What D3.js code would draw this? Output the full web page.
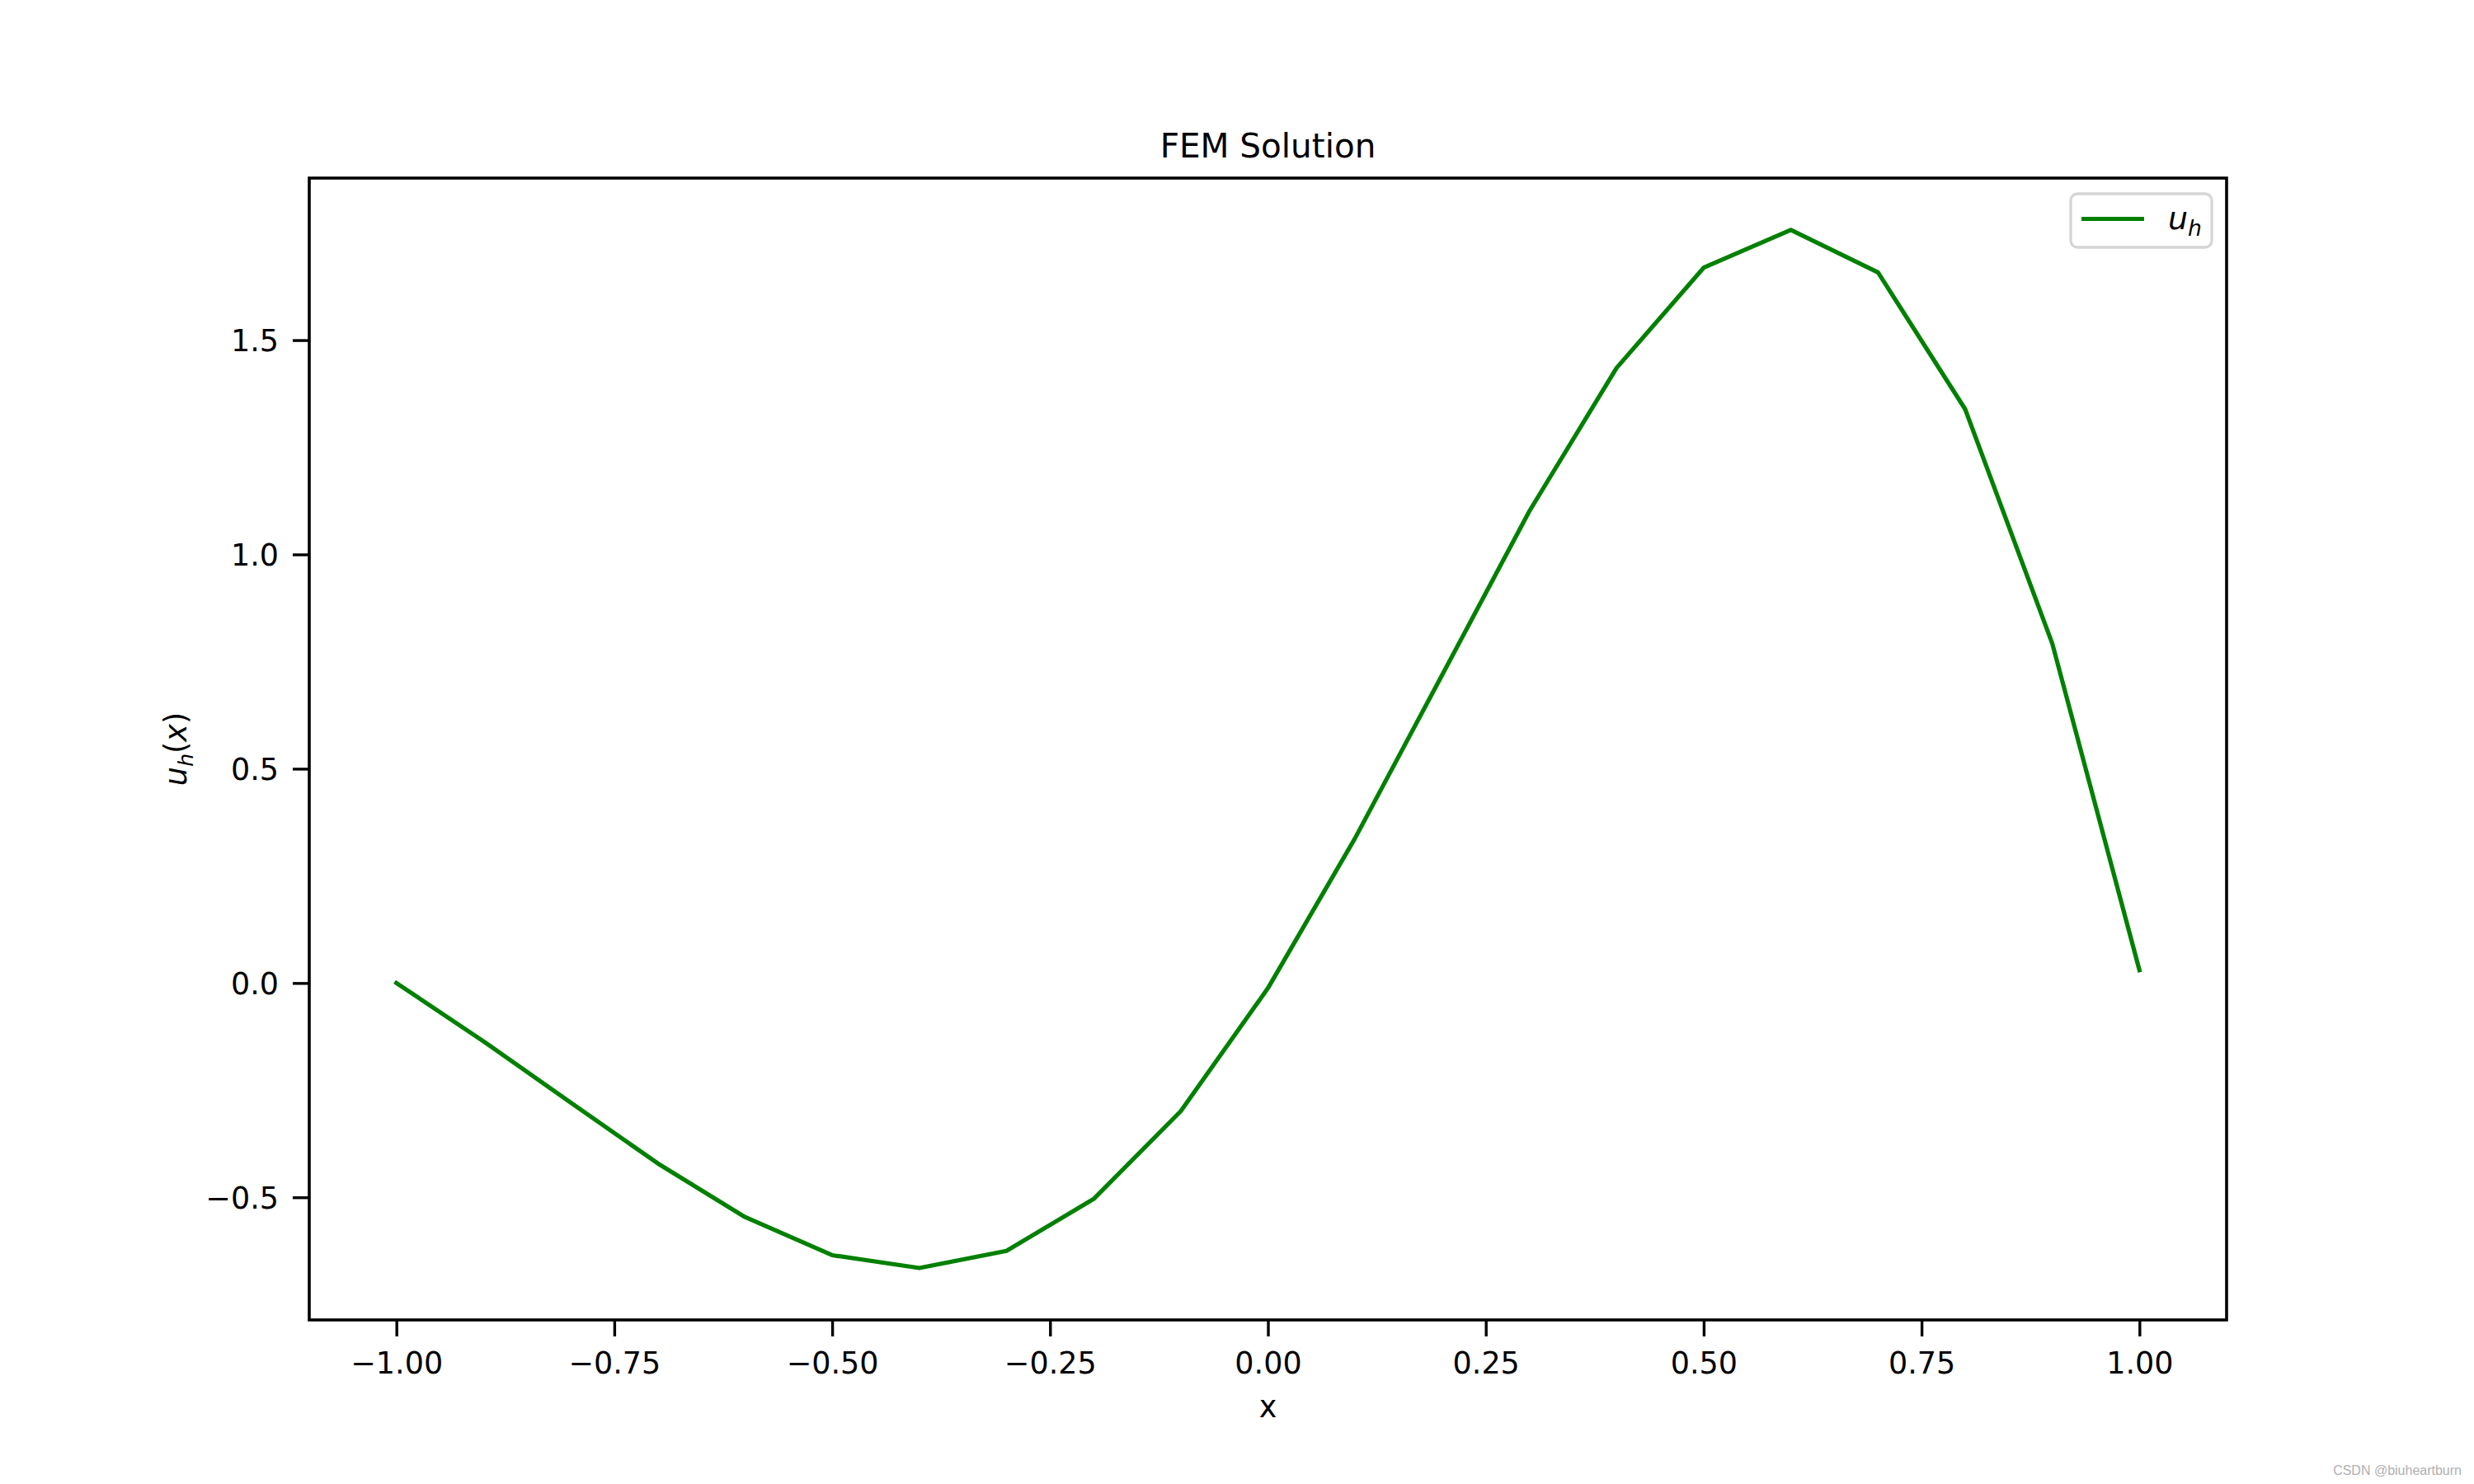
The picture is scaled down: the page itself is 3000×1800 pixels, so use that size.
<!DOCTYPE html>
<html>
<head>
<meta charset="utf-8">
<script src="https://cdn.jsdelivr.net/npm/d3@7"></script>
<style>
  html, body { margin: 0; padding: 0; background: #fff; }
  svg { display: block; }
</style>
</head>
<body>
<svg id="chart" width="3000" height="1800"></svg>
<script>
// ---- data ----
const xValues = [-1.0, -0.9, -0.8, -0.7, -0.6, -0.5, -0.4, -0.3, -0.2, -0.1, 0.0,
                 0.1, 0.2, 0.3, 0.4, 0.5, 0.6, 0.7, 0.8, 0.9, 1.0];
const uhValues = [0.000, -0.136, -0.279, -0.421, -0.546, -0.635, -0.665, -0.625, -0.504, -0.299, -0.012,
                  0.338, 0.719, 1.101, 1.435, 1.669, 1.757, 1.658, 1.339, 0.792, 0.030];
const xTicks = [-1.0, -0.75, -0.5, -0.25, 0.0, 0.25, 0.5, 0.75, 1.0];
const yTicks = [-0.5, 0.0, 0.5, 1.0, 1.5];
const titleText = "FEM Solution";
const xLabelText = "x";
const watermarkText = "CSDN @biuheartburn";

// ---- layout ----
const W = 3000, H = 1800;
const L = 375, R = 2700, T = 216, B = 1601;
const tickFont = 36.5;
const svg = d3.select("#chart");
svg.append("rect").attr("width", W).attr("height", H).attr("fill", "#fff");

const points = xValues.map((x, i) => ({x, y: uhValues[i]}));

function padded(ext) {
  const r = ext[1] - ext[0];
  return [ext[0] - 0.05 * r, ext[1] + 0.05 * r];
}
const xScale = d3.scaleLinear().domain(padded(d3.extent(xValues))).range([L, R]);
const yScale = d3.scaleLinear().domain(padded(d3.extent(uhValues))).range([B, T]);

// ---- line ----
const line = d3.line().x(d => xScale(d.x)).y(d => yScale(d.y)).curve(d3.curveLinear);
svg.append("path")
  .datum(points)
  .attr("d", line)
  .attr("fill", "none")
  .attr("stroke", "#008000")
  .attr("stroke-width", 5.2)
  .attr("stroke-linejoin", "round")
  .attr("stroke-linecap", "square");

// ---- axes ----
const fmt2 = d => d3.format(".2f")(d).replace("-", "\u2212");
const fmt1 = d => d3.format(".1f")(d).replace("-", "\u2212");

const xAxis = svg.append("g")
  .attr("transform", `translate(0,${B})`)
  .call(d3.axisBottom(xScale).tickValues(xTicks).tickFormat(fmt2).tickSize(20).tickSizeOuter(0).tickPadding(18));
const yAxis = svg.append("g")
  .attr("transform", `translate(${L},0)`)
  .call(d3.axisLeft(yScale).tickValues(yTicks).tickFormat(fmt1).tickSize(20).tickSizeOuter(0).tickPadding(17));

[xAxis, yAxis].forEach(ax => {
  ax.select(".domain").remove();
  ax.selectAll(".tick line").attr("stroke", "#000").attr("stroke-width", 3.4);
  ax.selectAll(".tick text")
    .attr("fill", "#000")
    .attr("font-family", "'DejaVu Sans', sans-serif")
    .attr("font-size", tickFont);
});
xAxis.selectAll(".tick text").attr("dy", "0.74em");
yAxis.selectAll(".tick text").attr("dy", "0.36em");

// ---- frame ----
svg.append("rect")
  .attr("x", L).attr("y", T).attr("width", R - L).attr("height", B - T)
  .attr("fill", "none").attr("stroke", "#000").attr("stroke-width", 3.6);

// ---- title & labels ----
svg.append("text")
  .attr("x", (L + R) / 2).attr("y", 191)
  .attr("text-anchor", "middle")
  .attr("font-family", "'DejaVu Sans', sans-serif")
  .attr("font-size", 40.5)
  .attr("fill", "#000")
  .text(titleText);

svg.append("text")
  .attr("x", (L + R) / 2).attr("y", 1719)
  .attr("text-anchor", "middle")
  .attr("font-family", "'DejaVu Sans', sans-serif")
  .attr("font-size", tickFont)
  .attr("fill", "#000")
  .text(xLabelText);

const ylab = svg.append("text")
  .attr("transform", `translate(226,${(T + B) / 2}) rotate(-90)`)
  .attr("text-anchor", "middle")
  .attr("font-family", "'DejaVu Sans', sans-serif")
  .attr("font-size", tickFont)
  .attr("fill", "#000");
ylab.append("tspan").attr("font-style", "italic").text("u");
ylab.append("tspan").attr("font-style", "italic").attr("font-size", tickFont * 0.7).attr("dy", 8).text("h");
ylab.append("tspan").attr("dy", -8).text("(");
ylab.append("tspan").attr("font-style", "italic").text("x");
ylab.append("tspan").text(")");

// ---- legend ----
const lg = svg.append("g");
lg.append("rect")
  .attr("x", 2511).attr("y", 235).attr("width", 171).attr("height", 65)
  .attr("rx", 8).attr("ry", 8)
  .attr("fill", "#fff").attr("fill-opacity", 0.8)
  .attr("stroke", "#d5d5d5").attr("stroke-width", 3.3);
lg.append("line")
  .attr("x1", 2524).attr("x2", 2600).attr("y1", 265.5).attr("y2", 265.5)
  .attr("stroke", "#008000").attr("stroke-width", 5.2);
const lt = lg.append("text")
  .attr("x", 2629).attr("y", 278)
  .attr("font-family", "'DejaVu Sans', sans-serif")
  .attr("font-size", 38)
  .attr("fill", "#000");
lt.append("tspan").attr("font-style", "italic").text("u");
lt.append("tspan").attr("font-style", "italic").attr("font-size", 38 * 0.7).attr("dy", 8).text("h");

// ---- watermark ----
svg.append("text")
  .attr("x", 2985).attr("y", 1789)
  .attr("text-anchor", "end")
  .attr("font-family", "'Liberation Sans', Arial, sans-serif")
  .attr("font-size", 16)
  .attr("fill", "#b0b0b0")
  .text(watermarkText);
</script>
</body>
</html>
